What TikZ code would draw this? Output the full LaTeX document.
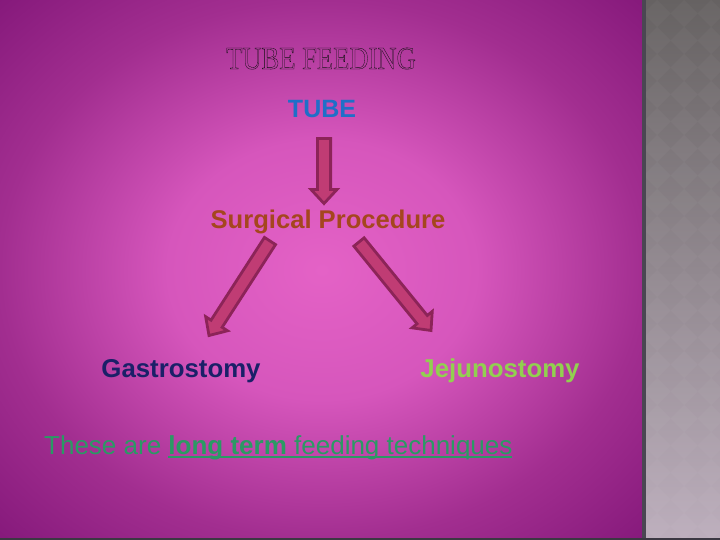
\documentclass[tikz,border=0pt]{standalone}
\usepackage{fontspec}
\usepackage{graphicx}
\setmainfont{Liberation Sans}
\newfontfamily\titlefont{Liberation Serif}
\usetikzlibrary{calc}
\definecolor{bgC}{HTML}{E462C6}
\definecolor{bgM}{HTML}{D656BC}
\definecolor{bgE}{HTML}{A22E90}
\definecolor{bgK}{HTML}{84187A}
\definecolor{stripTop}{HTML}{666262}
\definecolor{stripBot}{HTML}{BCAEBC}
\definecolor{stripEdge}{HTML}{4A4652}
\definecolor{tubeBlue}{HTML}{1F6FC8}
\definecolor{surgBrown}{HTML}{A5461E}
\definecolor{gastroNavy}{HTML}{1A2068}
\definecolor{jejuGreen}{HTML}{92D050}
\definecolor{noteGreen}{HTML}{2A9A64}
\definecolor{arrFill}{HTML}{C03C74}
\definecolor{arrEdge}{HTML}{8C2458}
\definecolor{titleInk}{HTML}{101010}
\pgfdeclareradialshading{slidebg}{\pgfpoint{0bp}{0bp}}{color(0bp)=(bgC); color(12bp)=(bgM); color(25bp)=(bgE); color(36bp)=(bgK); color(50bp)=(bgK)}
\newcommand\myul[1]{\setbox0\hbox{#1}\rlap{\rule[-4pt]{\wd0}{2pt}}\box0}
\newcommand\outlinetext[1]{\special{pdf:literal direct 1 Tr 0.35 w}#1\special{pdf:literal direct 0 Tr}}
\newcommand\blockarrow[2]{%
  \coordinate (#1c) at ($(#2)!14pt!(#1)$);
  \draw[blockarr] ($(#1)!6.6pt!90:(#2)$) -- ($(#1c)!6.6pt!90:(#2)$) -- ($(#1c)!13pt!90:(#2)$) -- (#2)
    -- ($(#1c)!13pt!-90:(#2)$) -- ($(#1c)!6.6pt!-90:(#2)$) -- ($(#1)!6.6pt!-90:(#2)$) -- cycle;}
\tikzset{
  lbl/.style={inner sep=0pt, anchor=base},
  blockarr/.style={fill=arrFill, draw=arrEdge, line width=2.8pt, line join=miter},
}
\begin{document}
\begin{tikzpicture}[x=1pt,y=-1pt]
\useasboundingbox (0,0) rectangle (720,540);
% background
\shade[shading=slidebg] (0,0) rectangle (644,540);
\shade[top color=stripTop, bottom color=stripBot] (644,0) rectangle (720,540);
\begin{scope}
  \clip (644,0) rectangle (720,540);
  \foreach \i in {0,...,3}{
    \foreach \j in {0,...,20}{
      \fill[white, opacity=0.03] (657+27*\i, 13.5+27*\j-13.5) -- (657+27*\i+13.5, 13.5+27*\j) -- (657+27*\i, 13.5+27*\j+13.5) -- (657+27*\i-13.5, 13.5+27*\j) -- cycle;
    }
  }
\end{scope}
\fill[stripEdge] (642,0) rectangle (646,540);
\fill[stripEdge!80!black] (0,538) rectangle (720,540);
% texts
\node[lbl, text=titleInk, font=\titlefont\fontsize{32}{36}\selectfont] (title) at (321,69) {\scalebox{0.83}[1]{\outlinetext{TUBE FEEDING}}};
\node[lbl, text=tubeBlue, font=\bfseries\fontsize{25}{30}\selectfont] (tube) at (322,118) {TUBE};
\node[lbl, text=surgBrown, font=\bfseries\fontsize{25.6}{30}\selectfont] (surg) at (328,229) {Surgical Procedure};
\node[lbl, text=gastroNavy, font=\bfseries\fontsize{25.8}{30}\selectfont] (gastro) at (181,377) {Gastrostomy};
\node[lbl, text=jejuGreen, font=\bfseries\fontsize{25.8}{30}\selectfont] (jeju) at (500,377) {Jejunostomy};
\node[lbl, anchor=base west, text=noteGreen, font=\fontsize{26}{30}\selectfont] (note) at (44,454) {These are \myul{\textbf{long term} feeding techniques}};
% arrows
\coordinate (a1s) at (324,138.5);
\coordinate (a1e) at (324,203.5);
\coordinate (a2s) at (270,241);
\coordinate (a2e) at (209,335.5);
\coordinate (a3s) at (359,242);
\coordinate (a3e) at (431,330.5);
\blockarrow{a1s}{a1e}
\blockarrow{a2s}{a2e}
\blockarrow{a3s}{a3e}
\end{tikzpicture}
\end{document}
